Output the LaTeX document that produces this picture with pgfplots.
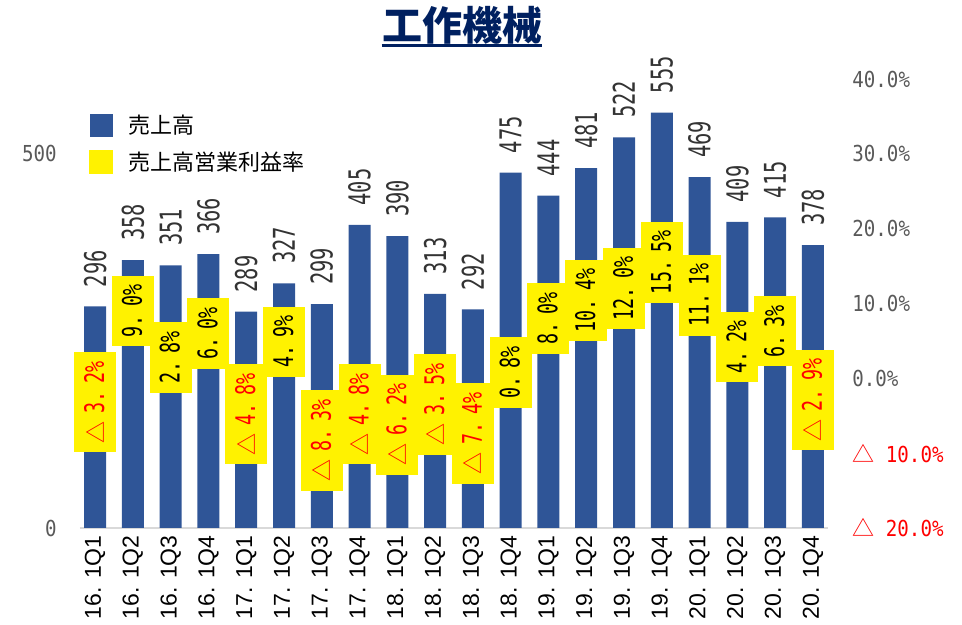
\documentclass[border=0pt]{standalone}
\usepackage{fontspec}
\usepackage{pgfplots}
\pgfplotsset{compat=1.18}
\setmainfont{Noto Sans CJK JP}
\newfontfamily\cjk{Noto Sans CJK JP}
\newfontfamily\tickfont{DejaVu Sans Mono}[FakeStretch=0.87]
\newfontfamily\lblfont{DejaVu Sans Mono}[FakeStretch=0.68]
\newfontfamily\xfont{Liberation Sans}
\definecolor{barblue}{RGB}{47,85,151}
\definecolor{navy}{RGB}{0,32,96}
\definecolor{tickgray}{RGB}{89,89,89}
\definecolor{negred}{RGB}{255,0,0}
% rate labels: 9. 0%  /  red triangle for negatives
\NewDocumentCommand\rpos{mm}{#1.\kern0.3em#2\%}
\NewDocumentCommand\rneg{mm}{\textcolor{negred}{{\cjk\fontsize{11}{12}\selectfont △}\kern0.3em#1.\kern0.3em#2\%}}

\begin{document}
\begin{tikzpicture}
\useasboundingbox (-40pt,-48.5pt) rectangle (441pt,264pt);

\begin{axis}[
  scale only axis, width=374pt, height=224.5pt,
  xmin=-0.4, xmax=19.4, ymin=0, ymax=600,
  axis lines*=left, separate axis lines,
  x axis line style={draw=black!15, line width=1pt},
  y axis line style={draw=none},
  major tick length=0pt,
  xtick={0,...,19},
  xticklabels={16. 1Q1,16. 1Q2,16. 1Q3,16. 1Q4,17. 1Q1,17. 1Q2,17. 1Q3,17. 1Q4,
    18. 1Q1,18. 1Q2,18. 1Q3,18. 1Q4,19. 1Q1,19. 1Q2,19. 1Q3,19. 1Q4,
    20. 1Q1,20. 1Q2,20. 1Q3,20. 1Q4},
  xticklabel style={yshift=-3.5pt, rotate=90, anchor=east, inner sep=0pt,
    font=\xfont\fontsize{11.5}{12}\selectfont},
  ytick={0,500}, yticklabels={0,500},
  yticklabel style={xshift=-11.5pt, anchor=east, inner sep=0pt,
    font=\tickfont\fontsize{11}{12}\selectfont, text=tickgray},
  clip=false,
  legend cell align=left,
  legend style={at={(0,1)}, anchor=north west, xshift=4.5pt, yshift=-17.5pt,
    draw=none, fill=none, inner sep=0pt, row sep=6.5pt, column sep=7.5pt,
    font=\fontsize{11}{13}\selectfont, nodes={inner sep=0pt}},
]
\addplot[ybar, bar width=11pt, fill=barblue, draw=none,
  nodes near coords,
  /pgf/number format/assume math mode=true,
  every node near coord/.append style={yshift=9.5pt, rotate=90, anchor=west,
    inner sep=0pt, font=\lblfont\fontsize{15}{15}\selectfont, text=black!80},
  legend image code/.code={\fill[barblue] (0pt,-5.75pt) rectangle (11.5pt,5.75pt);}]
coordinates {
  (0,296) (1,358) (2,351) (3,366) (4,289) (5,327) (6,299) (7,405)
  (8,390) (9,313) (10,292) (11,475) (12,444) (13,481) (14,522) (15,555)
  (16,469) (17,409) (18,415) (19,378)
};
\addlegendentry{売上高}
\addlegendimage{legend image code/.code={\fill[yellow] (0pt,-5.75pt) rectangle (11.5pt,5.75pt);}}
\addlegendentry{売上高営業利益率}
\end{axis}

\begin{axis}[
  scale only axis, width=374pt, height=224.5pt,
  xmin=-0.4, xmax=19.4, ymin=-20, ymax=40,
  hide x axis, axis y line*=right, y axis line style={draw=none},
  major tick length=0pt,
  ytick={-20,-10,0,10,20,30,40},
  yticklabels={{\textcolor{negred}{{\cjk △} 20.0\%}},{\textcolor{negred}{{\cjk △} 10.0\%}},
    0.0\%,10.0\%,20.0\%,30.0\%,40.0\%},
  yticklabel style={xshift=12pt, anchor=west, inner sep=0pt,
    font=\tickfont\fontsize{11}{12}\selectfont, text=tickgray},
  clip=false,
]
\addplot[draw=none, point meta=explicit symbolic,
  nodes near coords={\pgfplotspointmeta},
  every node near coord/.append style={rotate=90, anchor=center, fill=yellow,
    inner xsep=4.5pt, inner ysep=5pt, text height=10pt, text depth=1pt,
    font=\lblfont\fontsize{13.5}{14}\selectfont, text=black}]
coordinates {
  (0,-3.2) [\rneg{3}{2}]
  (1,9.0) [\rpos{9}{0}]
  (2,2.8) [\rpos{2}{8}]
  (3,6.0) [\rpos{6}{0}]
  (4,-4.8) [\rneg{4}{8}]
  (5,4.9) [\rpos{4}{9}]
  (6,-8.3) [\rneg{8}{3}]
  (7,-4.8) [\rneg{4}{8}]
  (8,-6.2) [\rneg{6}{2}]
  (9,-3.5) [\rneg{3}{5}]
  (10,-7.4) [\rneg{7}{4}]
  (11,0.8) [\rpos{0}{8}]
  (12,8.0) [\rpos{8}{0}]
  (13,10.4) [\rpos{10}{4}]
  (14,12.0) [\rpos{12}{0}]
  (15,15.5) [\rpos{15}{5}]
  (16,11.1) [\rpos{11}{1}]
  (17,4.2) [\rpos{4}{2}]
  (18,6.3) [\rpos{6}{3}]
  (19,-2.9) [\rneg{2}{9}]
};
\end{axis}

\node[font=\bfseries\fontsize{20}{21}\selectfont, text=navy, inner sep=0pt]
  (title) at (191pt,251.5pt) {工作機械};
\draw[navy, line width=1.5pt] (title.west |- 0,241pt) -- (title.east |- 0,241pt);
\end{tikzpicture}
\end{document}
